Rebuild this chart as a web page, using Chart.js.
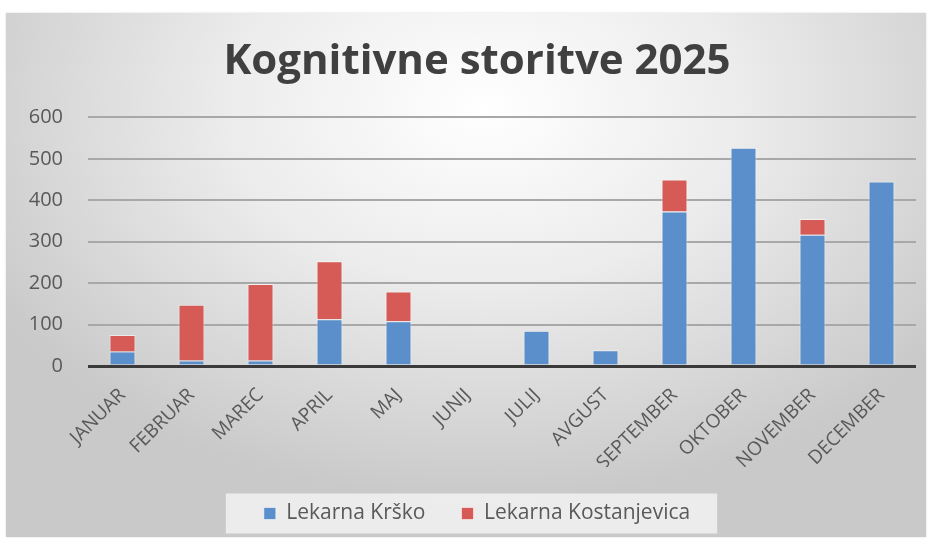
<!DOCTYPE html>
<html>
<head>
<meta charset="utf-8">
<script src="https://cdn.jsdelivr.net/npm/chart.js@4.4.1/dist/chart.umd.min.js"></script>
<style>
  html, body { margin: 0; padding: 0; background: #ffffff; width: 936px; height: 539px; overflow: hidden; }
  #frame {
    position: absolute; left: 6px; top: 13px; width: 920px; height: 524px;
    background: radial-gradient(ellipse 62% 75% at 52% 18%, #ffffff 0%, #ececec 45%, #c9c9c9 100%);
    box-shadow: 0 0 2px rgba(0,0,0,0.15);
  }
  #c { display: block; }
</style>
</head>
<body>
<div id="frame"><canvas id="c" width="920" height="524"></canvas></div>
<script>
const titleText = 'Kognitivne storitve 2025';
const months = ['JANUAR','FEBRUAR','MAREC','APRIL','MAJ','JUNIJ','JULIJ','AVGUST','SEPTEMBER','OKTOBER','NOVEMBER','DECEMBER'];
const seriesNames = ['Lekarna Krško', 'Lekarna Kostanjevica'];
const krsko = [35, 13, 13, 113, 108, 0, 85, 38, 373, 527, 317, 445];
const kostanjevica = [40, 135, 185, 140, 72, 0, 0, 0, 77, 0, 38, 0];
const yTicks = [0, 100, 200, 300, 400, 500, 600];

const legendBox = {
  id: 'legendBox',
  afterLayout(chart) {
    // let the y tick labels extend into the left padding without clipping
    if (chart.scales.y) chart.scales.y.left = 0;
  },
  beforeDraw(chart) {
    const l = chart.legend;
    if (!l || !l.legendHitBoxes || !l.legendHitBoxes.length) return;
    const hb = l.legendHitBoxes;
    const first = hb[0], last = hb[hb.length - 1];
    const cy = first.top + first.height / 2;
    const ctx = chart.ctx;
    ctx.save();
    ctx.fillStyle = 'rgba(238,238,238,0.95)';
    ctx.fillRect(first.left - 38, cy - 20, (last.left + last.width + 27) - (first.left - 38), 40);
    ctx.restore();
  }
};

new Chart(document.getElementById('c'), {
  type: 'bar',
  data: {
    labels: months,
    datasets: [
      { label: seriesNames[0], data: krsko, backgroundColor: '#5b8fcb', borderColor: 'rgba(255,255,255,0.55)', borderWidth: 1, categoryPercentage: 1, barPercentage: 0.377 },
      { label: seriesNames[1], data: kostanjevica, backgroundColor: '#d65a55', borderColor: 'rgba(255,255,255,0.55)', borderWidth: 1, categoryPercentage: 1, barPercentage: 0.377 }
    ]
  },
  options: {
    responsive: false,
    animation: false,
    devicePixelRatio: 1,
    layout: { padding: { left: 32, right: 10, top: 0, bottom: 3 } },
    plugins: {
      title: {
        display: true, text: titleText, color: '#404040',
        font: { family: 'Open Sans', weight: 'bold', size: 42 },
        padding: { top: 24, bottom: 30 }
      },
      legend: {
        position: 'bottom',
        labels: {
          color: '#595959', font: { family: 'Open Sans', size: 21 },
          boxWidth: 12, boxHeight: 12, padding: 36
        }
      },
      tooltip: { enabled: false }
    },
    scales: {
      x: {
        stacked: true,
        grid: { display: false },
        border: { display: false },
        afterFit(axis) { axis.height = 101; },
        ticks: { color: '#595959', font: { family: 'Open Sans', size: 19 }, maxRotation: 45, minRotation: 45, padding: 10 }
      },
      y: {
        stacked: true,
        min: 0, max: 600,
        afterBuildTicks(axis) { axis.ticks = yTicks.map(v => ({ value: v })); },
        afterFit(axis) { axis.width = 50; },
        grid: {
          color: ctx => ctx.tick && ctx.tick.value === 0 ? '#3a3a3a' : '#a8a8a8',
          lineWidth: ctx => ctx.tick && ctx.tick.value === 0 ? 3 : 2,
          drawTicks: false
        },
        border: { display: false },
        ticks: { color: '#595959', font: { family: 'Open Sans', size: 20 }, padding: 25 }
      }
    }
  },
  plugins: [legendBox]
});
</script>
</body>
</html>
